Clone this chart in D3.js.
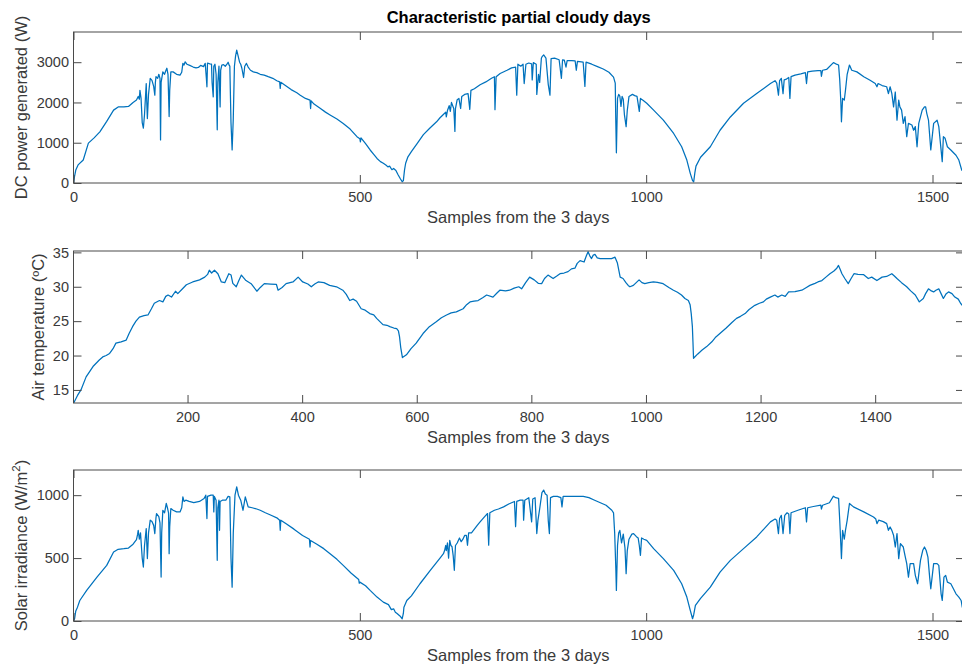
<!DOCTYPE html>
<html>
<head>
<meta charset="utf-8">
<script src="https://cdn.jsdelivr.net/npm/d3@7"></script>
<style>
  body { margin: 0; background: #fff; }
  svg { display: block; }
  text { font-family: "Liberation Sans", Arial, Helvetica, sans-serif; }
</style>
</head>
<body>
<svg id="chart" width="962" height="667"></svg>
<script>
// ---- Data: [sample index, value] ----
const powerSeries = [
  [0,0],[2,180],[4,320],[8,450],[17,570],[26,990],[36,1120],[46,1270],[58,1530],[70,1810],[78,1890],[88,1890],[96,1900],[104,2000],[110,2060],[113,2150],[115,2080],[116,2300],[118,2100],
  [120,1500],[122,1360],[124,1700],[127,2470],[128,2000],[129,1600],[131,2200],[134,2600],[137,2550],[140,2400],[142,2180],[143,2500],[144,2640],[147,2600],[149,2700],[151,2600],[152,1070],[153,2500],[156,2760],[159,2700],[161,2780],[163,2850],[165,2700],[167,1650],[168,2300],[170,2760],[174,2760],[180,2700],[186,2680],[189,2750],[191,2970],[193,2930],[195,3010],[198,2950],[203,2920],[209,2880],[214,2860],[218,2870],[222,2920],[227,2890],[230,2970],[232,2600],[233,2390],[234,2980],[238,2960],[241,2950],[242,2500],[244,2140],[245,2900],[247,2950],[249,2700],[251,1320],[252,2500],[254,2900],[256,1890],[257,2800],[259,2930],[262,2940],[265,2900],[268,2950],[270,3000],[272,2920],[273,2900],[275,1500],[277,820],[279,1600],[281,2900],[283,3150],[285,3300],[287,3180],[290,3000],[292,2950],[294,2850],[297,2620],[299,2900],[302,2970],[305,2880],[309,2800],[314,2760],[320,2740],[326,2700],[333,2680],[340,2640],[348,2600],[355,2540],[360,2510],[361,2350],[362,2500],[370,2420],[380,2320],[390,2240],[396,2180],[405,2100],[413,2060],[414,1850],[415,2040],[420,1960],[430,1860],[440,1760],[448,1690],[460,1590],[471,1480],[483,1340],[495,1150],[500,1100],[501,1020],[502,1120],[510,980],[518,820],[525,700],[530,610],[536,530],[541,490],[546,440],[549,400],[552,420],[556,330],[559,360],[563,310],[567,200],[571,100],[574,30],[576,60],[578,320],[580,490],[584,650],[590,780],[600,980],[611,1200],[622,1360],[634,1520],[640,1620],[645,1690],[650,1760],[651,1640],[653,1800],[656,1920],[658,1780],[660,2000],[664,1850],[665,1600],[666,1280],[667,1850],[670,2070],[673,2100],[676,1850],[678,2150],[683,2200],[689,2220],[692,1830],[694,2300],[700,2340],[710,2440],[720,2510],[730,2600],[735,2640],[736,1820],[738,2640],[745,2720],[757,2800],[765,2860],[772,2880],[774,2180],[776,2950],[781,2900],[785,2950],[787,2470],[790,2950],[795,2980],[800,2960],[801,2560],[803,2990],[808,2950],[809,2200],[812,2700],[814,2500],[817,3100],[818,3130],[821,3180],[825,3100],[829,2450],[832,2180],[834,3090],[840,3100],[848,3060],[852,2600],[854,3060],[857,3050],[860,2880],[862,3040],[870,3040],[876,3030],[878,2800],[880,3020],[890,3000],[893,2400],[895,3000],[905,2950],[915,2890],[925,2830],[935,2750],[943,2630],[946,2480],[947,1500],[948,750],[950,2100],[952,2200],[954,2160],[956,1900],[958,2150],[960,2080],[962,1700],[965,1400],[967,1800],[970,2150],[976,2200],[980,2170],[984,2150],[988,1780],[990,2100],[995,2050],[1001,1980],[1013,1810],[1030,1560],[1048,1230],[1062,900],[1071,570],[1077,240],[1081,60],[1083,30],[1085,250],[1087,420],[1095,640],[1112,900],[1129,1310],[1147,1640],[1170,1980],[1193,2220],[1217,2470],[1225,2540],[1228,2480],[1231,2180],[1233,2540],[1236,2600],[1239,2220],[1241,2560],[1245,2580],[1249,2620],[1251,2100],[1253,2640],[1260,2680],[1270,2710],[1278,2740],[1280,2470],[1282,2760],[1290,2780],[1300,2790],[1305,2790],[1306,2650],[1308,2800],[1315,2820],[1327,2990],[1331,2960],[1336,2930],[1338,2560],[1340,2000],[1341,1520],[1343,2100],[1346,2060],[1348,2300],[1351,2700],
  [1355,2930],[1359,2800],[1368,2760],[1380,2640],[1391,2550],[1400,2470],[1403,2390],[1405,2470],[1412,2420],[1420,2390],[1423,2220],[1426,2390],[1429,2220],[1432,1890],[1435,2260],[1438,1560],[1441,2060],[1443,1890],[1446,1810],[1449,1480],[1452,1650],[1455,1150],[1458,1480],[1464,1440],[1467,1310],[1470,1400],[1473,900],[1476,1480],[1482,1810],[1486,1890],[1488,1890],[1490,1730],[1493,1560],[1497,820],[1502,1480],[1508,1560],[1511,1400],[1517,530],[1519,1150],[1522,1110],[1526,900],[1532,820],[1541,690],[1546,570],[1551,320],[1555,300]
];

const temperatureSeries = [
  [1,13.1],[2,13.2],[8,14.2],[14,15.0],[23,16.9],[35,18.4],[46,19.35],[52,19.8],[58,20.0],[64,20.3],[70,21.0],[75,21.8],[84,22.0],[93,22.25],[98,23.2],[104,24.2],[110,25.0],[116,25.6],[124,25.8],[131,25.9],[137,26.8],[142,27.6],[151,28.0],[157,27.8],[162,28.6],[166,28.8],[172,28.5],[179,29.35],[183,29.0],[190,29.6],[198,30.3],[209,30.7],[221,31.0],[230,31.4],[235,31.8],[238,32.4],[242,32.0],[247,32.4],[253,31.9],[259,30.7],[265,30.6],[272,31.9],[276,31.7],[279,30.5],[285,30.0],[289,30.8],[294,31.7],[298,31.3],[302,30.9],[311,30.45],[321,29.35],[327,29.9],[334,30.45],[345,30.4],[355,30.36],[358,29.5],[365,29.9],[372,30.45],[384,30.7],[393,31.4],[401,30.7],[410,30.4],[416,30.0],[422,30.4],[428,30.7],[438,30.6],[448,30.2],[460,30.0],[471,29.5],[477,28.9],[483,28.0],[489,28.2],[495,27.9],[503,26.8],[510,26.6],[518,26.1],[525,25.9],[530,25.4],[541,24.5],[548,24.4],[553,24.2],[560,24.0],[565,23.9],[568,23.6],[570,22.7],[572,21.2],[575,19.7],[582,20.1],[590,21.0],[599,21.8],[611,23.2],[622,24.2],[634,24.9],[643,25.5],[652,25.9],[660,26.2],[669,26.35],[681,26.8],[687,27.4],[693,27.8],[700,27.9],[707,28.0],[715,28.4],[722,28.8],[733,28.5],[740,29.1],[745,29.5],[755,29.4],[762,29.5],[770,29.8],[778,30.0],[783,29.7],[790,30.6],[797,31.4],[805,31.0],[812,30.5],[818,30.45],[823,31.2],[829,31.7],[838,31.2],[845,31.6],[850,31.9],[857,32.0],[864,32.2],[870,32.6],[876,32.7],[880,33.4],[885,33.8],[892,33.6],[896,34.5],[899,35.1],[902,34.5],[905,34.1],[908,34.6],[911,34.7],[915,34.2],[920,34.1],[930,34.1],[940,34.1],[946,34.3],[950,33.5],[955,31.4],[960,31.2],[965,30.6],[969,30.2],[972,30.0],[978,30.2],[983,30.6],[988,31.0],[993,30.6],[998,30.45],[1005,30.6],[1013,30.7],[1020,30.65],[1030,30.45],[1040,29.9],[1048,29.5],[1055,29.2],[1062,28.8],[1068,28.3],[1074,28.0],[1077,27.4],[1079,26.1],[1081,24.2],[1082,22.0],[1083,19.6],[1090,20.2],[1098,20.8],[1106,21.3],[1115,22.0],[1122,22.7],[1129,23.2],[1140,24.0],[1150,24.8],[1158,25.4],[1165,25.7],[1173,26.1],[1180,26.7],[1190,27.3],[1198,27.6],[1205,27.8],[1210,28.2],[1217,28.5],[1225,28.8],[1230,28.5],[1237,28.8],[1243,28.6],[1249,29.25],[1260,29.3],[1272,29.5],[1280,29.9],[1286,30.2],[1295,30.5],[1300,30.7],[1307,30.9],[1314,31.4],[1321,31.9],[1328,32.3],[1333,32.7],[1336,33.1],[1339,32.5],[1342,31.9],[1347,31.2],[1353,30.45],[1358,31.2],[1363,31.9],[1370,31.8],[1380,31.75],[1388,31.2],[1394,31.4],[1403,30.9],[1412,31.4],[1420,31.5],[1429,31.9],[1433,31.6],[1438,31.2],[1446,30.6],[1455,30.0],[1462,29.4],[1470,28.8],[1477,27.8],[1484,28.3],[1488,29.0],[1493,29.7],[1498,29.4],[1502,29.25],[1506,29.5],[1511,29.7],[1515,29.0],[1519,28.3],[1524,29.0],[1528,29.25],[1534,29.0],[1539,28.5],[1545,28.2],[1549,27.6],[1555,27.0]
];

const irradianceSeries = [
  [0,0],[2,20],[4,80],[7,110],[11,163],[23,243],[41,349],[58,442],[70,548],[78,570],[88,575],[96,580],[104,610],[110,647],[112,690],[113,721],[115,650],[117,700],[120,500],[122,429],[124,600],[127,735],[129,496],[131,700],[134,801],[137,790],[140,760],[142,695],[144,820],[145,854],[149,830],[151,780],[153,349],[154,700],[156,880],[159,860],[162,934],[164,900],[166,860],[167,535],[168,750],[170,894],[174,880],[180,867],[186,867],[189,900],[191,986],[193,950],[196,960],[202,950],[210,940],[220,950],[228,973],[231,1000],[233,814],[234,990],[240,1000],[244,1000],[245,867],[246,990],[249,960],[251,482],[252,900],[254,960],[255,721],[256,950],[260,960],[266,960],[270,990],[273,986],[275,500],[277,269],[279,700],[282,1000],[285,1066],[288,1000],[292,960],[296,880],[300,986],[305,907],[312,900],[320,890],[326,880],[335,860],[345,840],[355,820],[360,800],[361,721],[362,801],[372,770],[385,730],[400,680],[412,650],[413,588],[414,640],[425,610],[437,575],[448,535],[460,490],[471,442],[485,380],[498,330],[499,300],[500,309],[510,280],[518,243],[530,190],[541,150],[550,130],[555,90],[559,97],[562,70],[565,60],[570,40],[574,18],[576,60],[577,110],[582,163],[590,200],[605,296],[623,402],[640,500],[646,535],[648,560],[650,600],[651,560],[653,620],[655,500],[657,640],[659,600],[661,590],[663,520],[665,403],[667,600],[670,620],[674,660],[677,630],[680,650],[683,680],[686,680],[688,602],[690,700],[695,700],[700,730],[705,760],[710,788],[718,830],[723,854],[725,602],[727,860],[735,880],[742,890],[751,907],[760,930],[770,950],[772,750],[774,950],[780,960],[785,960],[786,801],[788,960],[795,980],[800,788],[802,970],[806,980],[809,695],[811,800],[814,890],[818,1020],[821,1040],[824,1010],[827,1000],[829,800],[831,695],[833,980],[838,990],[845,990],[851,980],[853,907],[855,990],[862,990],[875,990],[890,990],[900,980],[910,960],[920,940],[930,920],[940,880],[943,860],[945,700],[947,420],[948,243],[950,600],[952,700],[954,720],[957,620],[960,690],[963,580],[965,376],[967,560],[970,650],[975,690],[978,695],[983,670],[986,660],[988,600],[990,522],[992,660],[996,650],[1001,641],[1013,575],[1030,496],[1048,402],[1062,296],[1071,190],[1077,84],[1081,18],[1083,50],[1086,124],[1095,180],[1112,269],[1129,389],[1147,482],[1170,575],[1193,668],[1217,788],[1225,810],[1228,800],[1231,695],[1233,815],[1236,840],[1239,695],[1242,840],[1246,860],[1249,850],[1251,695],[1253,860],[1265,880],[1278,900],[1280,788],[1282,900],[1292,910],[1305,920],[1306,890],[1308,920],[1320,940],[1327,992],[1331,980],[1336,975],[1338,800],[1340,600],[1341,496],[1343,720],[1346,650],[1348,720],[1351,800],
  [1355,934],[1362,907],[1380,867],[1397,827],[1401,810],[1403,774],[1406,801],[1414,790],[1420,774],[1423,721],[1426,747],[1429,720],[1432,681],[1435,588],[1438,695],[1441,496],[1444,615],[1449,588],[1452,520],[1455,456],[1458,349],[1461,456],[1467,456],[1470,363],[1474,296],[1479,482],[1483,562],[1486,588],[1489,560],[1492,508],[1495,349],[1497,256],[1502,456],[1508,456],[1511,442],[1515,216],[1517,163],[1520,349],[1523,363],[1526,309],[1532,296],[1541,216],[1546,190],[1550,163],[1552,110],[1555,100]
];

// ---- Axis ticks ----
const powerXTicks = [0, 500, 1000, 1500];
const powerYTicks = [0, 1000, 2000, 3000];
const tempXTicks = [200, 400, 600, 800, 1000, 1200, 1400];
const tempYTicks = [15, 20, 25, 30, 35];
const irrXTicks = [0, 500, 1000, 1500];
const irrYTicks = [0, 500, 1000];

const chartTitle = "Characteristic partial cloudy days";
const xAxisTitle = "Samples from the 3 days";

// ---- Layout ----
const svg = d3.select("#chart");
const left = 73.5, right = 964;
const axisColor = "#4a4a4a";
const textColor = "#3a3a3a";
const lineColor = "#0072BD";
const tickFont = 14.5, labelFont = 16.5;

const panels = [
  { data: powerSeries, top: 32, bottom: 183, xDomain: [0, 1555], yDomain: [0, 3750],
    xTicks: powerXTicks, yTicks: powerYTicks, yLabel: ["DC power generated (W)"], yLabelX: 27 },
  { data: temperatureSeries, top: 251, bottom: 403, xDomain: [1, 1555], yDomain: [13.1, 35.2],
    xTicks: tempXTicks, yTicks: tempYTicks, yLabel: ["Air temperature (\u00BAC)"], yLabelX: 43.5 },
  { data: irradianceSeries, top: 470, bottom: 621, xDomain: [0, 1555], yDomain: [0, 1200],
    xTicks: irrXTicks, yTicks: irrYTicks, yLabel: ["Solar irradiance (W/m", "2", ")"], yLabelX: 27 }
];

svg.append("rect").attr("width", 962).attr("height", 667).attr("fill", "#fff");

panels.forEach((p, i) => {
  const x = d3.scaleLinear().domain(p.xDomain).range([left, right]);
  const y = d3.scaleLinear().domain(p.yDomain).range([p.bottom, p.top]);
  const g = svg.append("g");

  const clipId = "clip" + i;
  svg.append("clipPath").attr("id", clipId)
    .append("rect").attr("x", left).attr("y", p.top)
    .attr("width", right - left).attr("height", p.bottom - p.top);

  // data line
  const line = d3.line().x(d => x(d[0])).y(d => y(d[1]));
  g.append("path").datum(p.data)
    .attr("clip-path", `url(#${clipId})`)
    .attr("fill", "none").attr("stroke", lineColor)
    .attr("stroke-width", 1.25).attr("stroke-linejoin", "round")
    .attr("d", line);

  // axes with inward ticks on all four sides
  const styleAxis = sel => {
    sel.select(".domain").remove();
    sel.selectAll(".tick line").attr("stroke", axisColor).attr("stroke-width", 1);
    sel.selectAll(".tick text").attr("fill", textColor)
      .attr("font-size", tickFont)
      .attr("font-family", "'Liberation Sans', Arial, Helvetica, sans-serif");
    sel.attr("font-family", null).attr("font-size", null);
  };
  g.append("g").attr("transform", `translate(0,${p.bottom})`)
    .call(d3.axisBottom(x).tickValues(p.xTicks).tickSize(-8).tickPadding(8.5).tickFormat(d3.format("d")))
    .call(styleAxis);
  g.append("g").attr("transform", `translate(0,${p.top})`)
    .call(d3.axisTop(x).tickValues(p.xTicks).tickSize(-8).tickFormat(""))
    .call(styleAxis);
  g.append("g").attr("transform", `translate(${left},0)`)
    .call(d3.axisLeft(y).tickValues(p.yTicks).tickSize(-8).tickPadding(4.5).tickFormat(d3.format("d")))
    .call(styleAxis);
  g.append("g").attr("transform", `translate(${right},0)`)
    .call(d3.axisRight(y).tickValues(p.yTicks).tickSize(-8).tickFormat(""))
    .call(styleAxis);

  // box
  g.append("rect").attr("x", left).attr("y", p.top)
    .attr("width", right - left).attr("height", p.bottom - p.top)
    .attr("fill", "none").attr("stroke", axisColor).attr("stroke-width", 1);

  // x label
  g.append("text").attr("x", (left + right) / 2 - 0.5).attr("y", p.bottom + 39.5)
    .attr("text-anchor", "middle").attr("font-size", labelFont).attr("fill", textColor)
    .text(xAxisTitle);

  // y label
  const cy = (p.top + p.bottom) / 2;
  const yl = g.append("text")
    .attr("transform", `translate(${p.yLabelX},${cy}) rotate(-90)`)
    .attr("text-anchor", "middle").attr("font-size", labelFont).attr("fill", textColor);
  if (p.yLabel.length === 1) {
    yl.text(p.yLabel[0]);
  } else {
    yl.append("tspan").text(p.yLabel[0]);
    yl.append("tspan").attr("font-size", labelFont * 0.7).attr("dy", -7).text(p.yLabel[1]);
    yl.append("tspan").attr("dy", 7).text(p.yLabel[2]);
  }
});

// title
svg.append("text").attr("x", (left + right) / 2).attr("y", 23)
  .attr("text-anchor", "middle").attr("font-size", 16.5).attr("font-weight", "bold")
  .attr("fill", "#000").text(chartTitle);
</script>
</body>
</html>
